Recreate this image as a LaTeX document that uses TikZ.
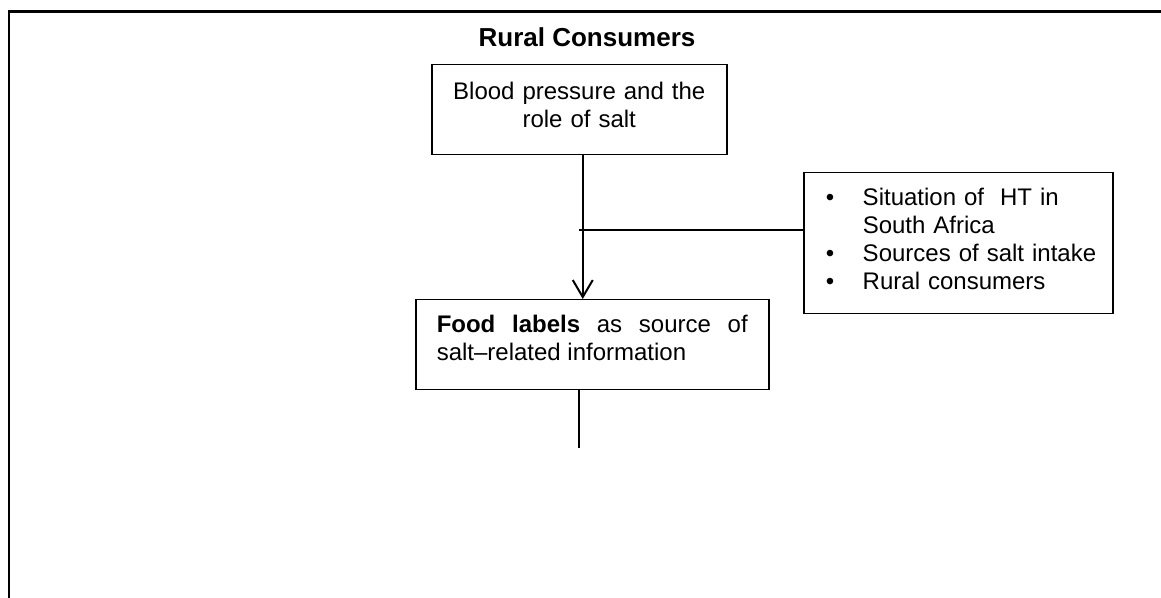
\documentclass[tikz,border=0pt]{standalone}
\usepackage{fontspec}
\setmainfont{Liberation Sans}
\usetikzlibrary{arrows.meta,positioning}

\newcommand{\bulletline}[1]{\noindent\hangindent=24.5pt\hangafter=1%
  \makebox[24.5pt][l]{\hspace{6pt}\textbullet}#1\par}

\tikzset{
  box/.style={draw, line width=0.75pt, inner ysep=0pt, anchor=north west},
  link/.style={line width=1pt},
}

\begin{document}
\begin{tikzpicture}[x=0.5pt,y=-0.5pt,font=\fontsize{12}{14}\selectfont]
  \useasboundingbox (0,0) rectangle (1161,598);
  % frame
  \draw[line width=1.2pt] (1170,11.5) -- (9,11.5) -- (9,605);
  \node[anchor=base,font=\fontsize{13}{15}\selectfont\bfseries] (title) at (587,47) {Rural Consumers};
  % boxes
  \node[box, text width=139.5pt, inner xsep=4pt, align=center, text height=17.5pt, text depth=27.5pt] (pressure) at (431,64) {Blood pressure and the\\ role of salt};
  \node[box, text width=155.5pt, inner xsep=10.5pt, align=justify, text height=16.5pt, text depth=28.5pt] (food) at (415,299) {\textbf{Food labels} as source of salt–related information};
  \node[box, text width=144.5pt, inner xsep=5pt, align=left, text height=16.5pt, text depth=54pt] (situation) at (803,172) {%
    \bulletline{Situation of~ HT in South Africa}%
    \bulletline{Sources of salt intake}%
    \bulletline{Rural consumers}};
  % connectors
  \coordinate (split) at ([xshift=1.75pt]pressure.south);
  \coordinate (branch) at (579,230);
  \coordinate (onward) at (579,448);
  \draw[link,-{Straight Barb[length=8.5pt,width=10pt]}] (split) -- (split |- food.north);
  \draw[link] (branch) -- (branch -| situation.west);
  \draw[link] (food.south -| onward) -- (onward);
\end{tikzpicture}
\end{document}
